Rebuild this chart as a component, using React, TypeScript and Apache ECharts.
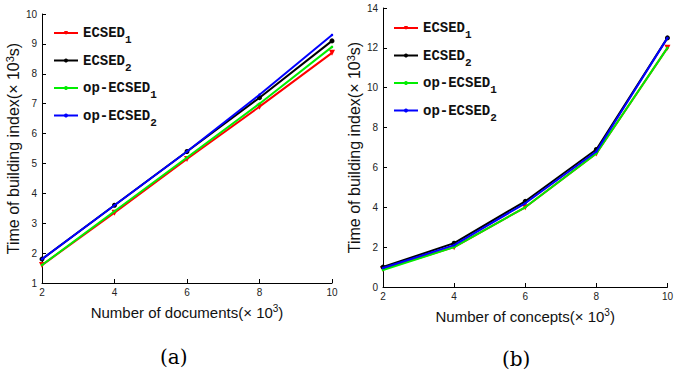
import React, { useEffect, useRef } from "react";
import * as echarts from "echarts";

const xValues = [2, 4, 6, 8, 10];
const seriesNames = ["ECSED1", "ECSED2", "op-ECSED1", "op-ECSED2"];
const colors = ["#ff0000", "#000000", "#00ee00", "#0000ff"];

// (a) Number of documents
const docsECSED1 = [1.6, 3.35, 5.15, 6.9, 8.7];
const docsECSED2 = [1.8, 3.6, 5.4, 7.2, 9.1];
const docsOpECSED1 = [1.6, 3.4, 5.2, 7.0, 8.9];
const docsOpECSED2 = [1.8, 3.6, 5.4, 7.3, 9.3];

// (b) Number of concepts
const consECSED1 = [0.9, 2.0, 4.0, 6.7, 12.0];
const consECSED2 = [1.0, 2.2, 4.3, 6.9, 12.5];
const consOpECSED1 = [0.85, 2.0, 4.0, 6.7, 12.0];
const consOpECSED2 = [0.95, 2.1, 4.2, 6.8, 12.5];

const symbols = ["triangle", "circle", "circle", "circle"];
const symbolSizes = [6, 5, 2.5, 2.5];
const symbolRotates = [180, 0, 0, 0];

const tickFont = "'Liberation Sans Narrow', 'Liberation Sans', Arial, sans-serif";
const monoFont = "'Liberation Mono', 'DejaVu Sans Mono', monospace";

export default function App() {
  const ref = useRef<HTMLDivElement>(null);
  useEffect(() => {
    if (!ref.current) return;
    const chart = echarts.init(ref.current, null, { renderer: "svg" });
    const docs = [docsECSED1, docsECSED2, docsOpECSED1, docsOpECSED2];
    const cons = [consECSED1, consECSED2, consOpECSED1, consOpECSED2];

    const mkSeries = (data: number[][], gi: number) =>
      seriesNames.map((name, i) => ({
        name,
        type: "line",
        xAxisIndex: gi,
        yAxisIndex: gi,
        data: xValues.map((x, k) => [x, data[i][k]]),
        symbol: symbols[i],
        symbolSize: symbolSizes[i],
        symbolRotate: symbolRotates[i],
        showSymbol: true,
        lineStyle: { color: colors[i], width: 2 },
        itemStyle: { color: colors[i] },
        z: 2 + i,
      }));

    const xAxis = (gi: number, name: string) => ({
      type: "value",
      gridIndex: gi,
      min: 2,
      max: 10,
      interval: 2,
      name,
      nameLocation: "middle",
      nameGap: 20,
      nameTextStyle: {
        fontFamily: tickFont,
        fontSize: 15,
        color: "#111",
        rich: { sup: { fontSize: 10, padding: [0, 0, 8, 0], fontFamily: tickFont, color: "#111" } },
      },
      axisLine: { lineStyle: { color: "#000", width: 1 } },
      axisTick: { inside: true, length: 4, lineStyle: { color: "#000" } },
      axisLabel: { fontFamily: tickFont, fontSize: 10, color: "#222", margin: 4 },
      splitLine: { show: false },
    });

    const yAxis = (gi: number, min: number, max: number, interval: number, gap: number) => ({
      type: "value",
      gridIndex: gi,
      min,
      max,
      interval,
      name: "Time of building index(× 10{sup|3}s)",
      nameLocation: "middle",
      nameGap: gap,
      nameRotate: 90,
      nameTextStyle: {
        fontFamily: tickFont,
        fontSize: 16,
        color: "#111",
        rich: { sup: { fontSize: 11, padding: [0, 0, 8, 0], fontFamily: tickFont, color: "#111" } },
      },
      axisLine: { show: true, lineStyle: { color: "#000", width: 1 } },
      axisTick: { show: true, inside: true, length: 4, lineStyle: { color: "#000" } },
      axisLabel: { fontFamily: tickFont, fontSize: 10, color: "#222", margin: 5 },
      splitLine: { show: false },
    });

    const legend = (left: number, top: number) => ({
      orient: "vertical",
      left,
      top,
      itemWidth: 24,
      itemHeight: 5,
      itemGap: 8,
      data: seriesNames,
      formatter: (n: string) => {
        const m = n.match(/^(.*)(\d)$/);
        return m ? `{main|${m[1]}}{sub|${m[2]}}` : n;
      },
      textStyle: {
        rich: {
          main: { fontFamily: monoFont, fontSize: 14, fontWeight: "bold", color: "#111" },
          sub: { fontFamily: monoFont, fontSize: 11, fontWeight: "bold", color: "#111", padding: [14, 0, 0, 0] },
        },
      },
    });

    chart.setOption({
      animation: false,
      backgroundColor: "#fff",
      grid: [
        { left: 42, top: 14, width: 290, height: 269 },
        { left: 383, top: 8, width: 290, height: 279 },
      ],
      xAxis: [
        xAxis(0, "Number of documents(× 10{sup|3})"),
        xAxis(1, "Number of concepts(× 10{sup|3})"),
      ],
      yAxis: [yAxis(0, 1, 10, 1, 18), yAxis(1, 0, 14, 2, 16)],
      legend: [legend(48, 21), legend(388, 16)],
      series: [...mkSeries(docs, 0), ...mkSeries(cons, 1)],
      graphic: [
        { type: "text", left: 160, top: 347, style: { text: "(a)", fontFamily: "'DejaVu Serif', 'Liberation Serif', serif", fontSize: 20, fill: "#000" } },
        { type: "text", left: 502, top: 349, style: { text: "(b)", fontFamily: "'DejaVu Serif', 'Liberation Serif', serif", fontSize: 20, fill: "#000" } },
      ],
    });
    return () => chart.dispose();
  }, []);
  return <div ref={ref} style={{ width: 676, height: 375, position: "absolute", left: 0, top: 0 }} />;
}
